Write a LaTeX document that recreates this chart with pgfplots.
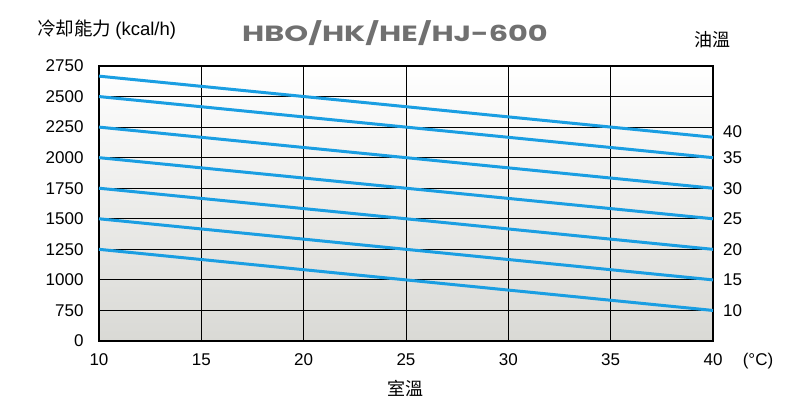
\documentclass[border=0pt]{standalone}
\usepackage{fontspec}
\usepackage{pgfplots}
\pgfplotsset{compat=1.18}
\setmainfont{Liberation Sans}
\newfontfamily\cjk{Noto Sans CJK TC}
\newfontfamily\titlefont{Poppins}[FakeStretch=1.38]
\definecolor{lineblue}{HTML}{1A9EE2}
\definecolor{titlegray}{HTML}{707070}
\definecolor{bggray}{HTML}{D9D9D5}
\begin{document}
\begin{tikzpicture}[x=1pt,y=1pt]
\path[use as bounding box] (0,0) rectangle (796,415);
\begin{axis}[
  at={(99pt,74pt)}, anchor=south west,
  scale only axis, width=614pt, height=275pt,
  xmin=10, xmax=40, ymin=500, ymax=2750,
  xtick={10,15,...,40},
  ytick={500,750,1000,1250,1500,1750,2000,2250,2500,2750},
  yticklabels={0,750,1000,1250,1500,1750,2000,2250,2500,2750},
  major tick length=0pt,
  grid=major,
  major grid style={black, line width=1pt},
  axis line style={black, line width=1.3pt},
  axis background/.style={top color=white, bottom color=bggray},
  tick label style={font=\fontsize{17}{17}\selectfont},
  /pgf/number format/assume math mode=true,
  yticklabel style={xshift=-12pt},
  xticklabel style={yshift=-9pt},
  clip=false,
]
\addplot[lineblue, line width=3pt] coordinates {(10,1250) (40,750)};
\addplot[lineblue, line width=3pt] coordinates {(10,1500) (40,1000)};
\addplot[lineblue, line width=3pt] coordinates {(10,1750) (40,1250)};
\addplot[lineblue, line width=3pt] coordinates {(10,2000) (40,1500)};
\addplot[lineblue, line width=3pt] coordinates {(10,2250) (40,1750)};
\addplot[lineblue, line width=3pt] coordinates {(10,2500) (40,2000)};
\addplot[lineblue, line width=3pt] coordinates {(10,2667) (40,2167)};
\foreach \v/\y in {40/2215,35/2000,30/1750,25/1500,20/1250,15/1000,10/750}{
  \edef\tmp{\noexpand\node[anchor=west, font=\noexpand\fontsize{17}{17}\noexpand\selectfont, inner sep=0pt] at (axis cs:40,\y) [xshift=10pt] {\v};}
  \tmp
}
\end{axis}
\node[anchor=west, inner sep=0pt, font=\fontsize{18.5}{18.5}\selectfont] at (37,385) {\cjk 冷却能力\ \rmfamily(kcal/h)};
\node[inner sep=0pt, text=titlegray, font=\titlefont\bfseries\fontsize{22}{22}\selectfont] at (395,382) {HBO/HK/HE/HJ-600};
\node[inner sep=0pt, font=\cjk\fontsize{18}{18}\selectfont] at (712,375) {油溫};
\node[inner sep=0pt, font=\fontsize{17}{17}\selectfont] at (758,54) {(°C)};
\node[inner sep=0pt, font=\cjk\fontsize{18}{18}\selectfont] at (405,27) {室溫};
\end{tikzpicture}
\end{document}
